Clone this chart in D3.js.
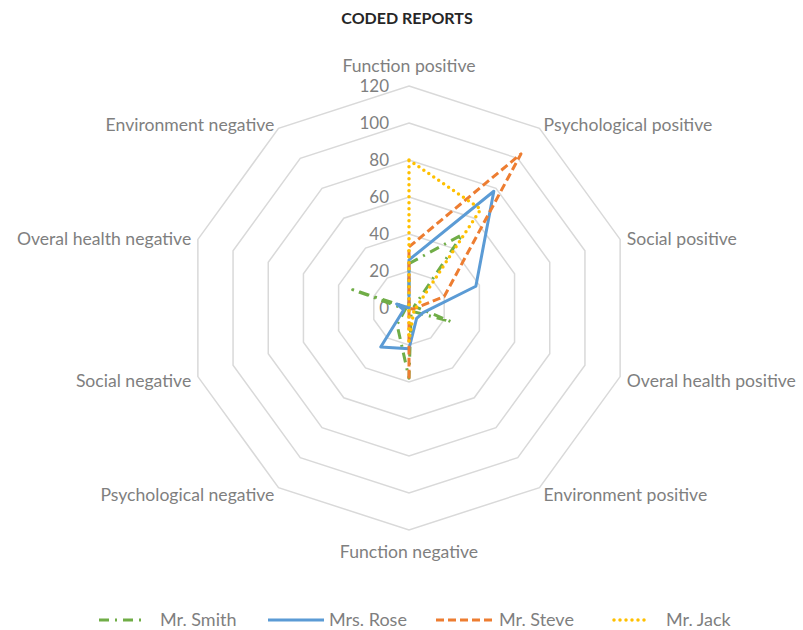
<!DOCTYPE html>
<html>
<head>
<meta charset="utf-8">
<script src="https://cdn.jsdelivr.net/npm/d3@7"></script>
<style>
  body { margin: 0; background: #fff; }
  svg { display: block; font-family: Lato, "Liberation Sans", sans-serif; }
  .axis-label { fill: #7f7f7f; font-size: 17.6px; }
  .tick-label { fill: #7f7f7f; font-size: 17px; }
  .legend-label { fill: #7f7f7f; font-size: 18px; }
  .title { fill: #262626; font-size: 16px; font-weight: bold; }
</style>
</head>
<body>
<script>
// categories round the radar, clockwise from the top
var categories = ['Function positive', 'Psychological positive', 'Social positive',
  'Overal health positive', 'Environment positive', 'Function negative',
  'Psychological negative', 'Social negative', 'Overal health negative',
  'Environment negative'];

var seriesNames = ['Mr. Smith', 'Mrs. Rose', 'Mr. Steve', 'Mr. Jack'];

// values, same order as categories
var smith = [24, 49, 3, 24, 2, 38, 11, 2, 32, 0];
var rose = [26, 78, 38, 8, 7, 22, 26, 3, 7, 0];
var steve = [33, 103, 20, 2, 0, 39, 0, 0, 0, 0];
var jack = [80, 66, 5, 3, 4, 18, 0, 0, 0, 0];

var ringTicks = [0, 20, 40, 60, 80, 100, 120];

var width = 803;
var height = 630;
var cx = 409;
var cy = 308;
var outerRadius = 222;

var seriesStyles = [
  { color: '#70ad47', dash: '10,6,2,6', cap: 'butt', width: 3 },
  { color: '#5b9bd5', dash: null, cap: 'butt', width: 3 },
  { color: '#ed7d31', dash: '8,4', cap: 'butt', width: 3 },
  { color: '#ffc000', dash: '0,6', cap: 'round', width: 3.5 }
];

var svg = d3.select('body').append('svg')
  .attr('width', width)
  .attr('height', height);

var rScale = d3.scaleLinear()
  .domain([0, 120])
  .range([0, outerRadius]);

// angle for each category, clockwise starting at 12 o'clock
var angleScale = d3.scalePoint()
  .domain(categories)
  .range([0, 2 * Math.PI * (categories.length - 1) / categories.length]);

var chart = svg.append('g')
  .attr('transform', 'translate(' + cx + ',' + cy + ')');

var radial = d3.lineRadial()
  .angle(function(d) { return angleScale(d.cat); })
  .radius(function(d) { return rScale(d.value); })
  .curve(d3.curveLinearClosed);

// grid rings (decagons)
chart.selectAll('.ring')
  .data(ringTicks.filter(function(t) { return t > 0; }))
  .enter()
  .append('path')
  .attr('class', 'ring')
  .attr('d', function(t) {
    return radial(categories.map(function(c) { return { cat: c, value: t }; }));
  })
  .attr('fill', 'none')
  .attr('stroke', '#d9d9d9')
  .attr('stroke-width', 1.5);

// ring values along the top axis
chart.selectAll('.tick-label')
  .data(ringTicks)
  .enter()
  .append('text')
  .attr('class', 'tick-label')
  .attr('x', -20)
  .attr('y', function(t) { return -rScale(t); })
  .attr('dy', '0.35em')
  .style('text-anchor', 'end')
  .text(function(t) { return t; });

// category labels outside the outer ring
chart.selectAll('.axis-label')
  .data(categories)
  .enter()
  .append('text')
  .attr('class', 'axis-label')
  .each(function(c) {
    var a = angleScale(c);
    var s = Math.sin(a);
    var co = Math.cos(a);
    var isVertical = Math.abs(s) < 0.01;
    var r = outerRadius + (isVertical ? 19 : 7);
    var x = r * s;
    var y = -r * co;
    var anchor = isVertical ? 'middle' : (s > 0 ? 'start' : 'end');
    d3.select(this)
      .attr('x', x)
      .attr('y', y + (isVertical ? (co > 0 ? -1 : 3) : 2))
      .attr('dy', '0.35em')
      .style('text-anchor', anchor)
      .text(c);
  });

// series
var series = [smith, rose, steve, jack].map(function(vals, i) {
  return {
    name: seriesNames[i],
    style: seriesStyles[i],
    points: vals.map(function(v, j) { return { cat: categories[j], value: v }; })
  };
});

chart.selectAll('.series')
  .data(series)
  .enter()
  .append('path')
  .attr('class', 'series')
  .attr('d', function(d) { return radial(d.points); })
  .attr('fill', 'none')
  .attr('stroke', function(d) { return d.style.color; })
  .attr('stroke-width', function(d) { return d.style.width; })
  .attr('stroke-dasharray', function(d) { return d.style.dash; })
  .attr('stroke-linecap', function(d) { return d.style.cap; })
  .attr('stroke-linejoin', 'round');

// title
svg.append('text')
  .attr('class', 'title')
  .attr('x', 407)
  .attr('y', 18)
  .attr('dy', '0.35em')
  .style('text-anchor', 'middle')
  .text('CODED REPORTS');

// legend
var legendY = 620;
var legendStarts = [99, 268, 436, 614];
var legendLineLengths = [47, 56, 58, 32];
var legendGaps = [14, 5, 5, 20];
var legend = svg.selectAll('.legend-item')
  .data(series)
  .enter()
  .append('g')
  .attr('class', 'legend-item')
  .attr('transform', function(d, i) {
    return 'translate(' + legendStarts[i] + ',' + legendY + ')';
  });

legend.append('line')
  .attr('x1', 0)
  .attr('x2', function(d, i) { return legendLineLengths[i]; })
  .attr('y1', 0)
  .attr('y2', 0)
  .attr('stroke', function(d) { return d.style.color; })
  .attr('stroke-width', function(d) { return d.style.width; })
  .attr('stroke-dasharray', function(d) { return d.style.dash; })
  .attr('stroke-linecap', function(d) { return d.style.cap; });

legend.append('text')
  .attr('class', 'legend-label')
  .attr('x', function(d, i) { return legendLineLengths[i] + legendGaps[i]; })
  .attr('y', 0)
  .attr('dy', '0.35em')
  .text(function(d) { return d.name; });
</script>
</body>
</html>
